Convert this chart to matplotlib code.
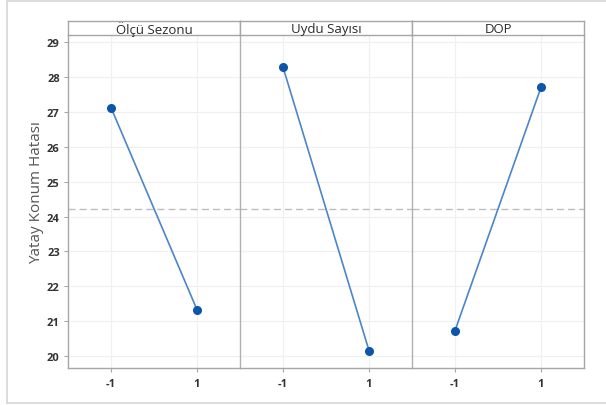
import matplotlib.pyplot as plt
from matplotlib.lines import Line2D

# main effects data
factors = ["Ölçü Sezonu", "Uydu Sayısı", "DOP"]
levels = [-1, 1]
level_labels = ["-1", "1"]
means = [
    [27.12, 21.33],
    [28.28, 20.16],
    [20.73, 27.70],
]
grand_mean = 24.22
y_ticks = [20, 21, 22, 23, 24, 25, 26, 27, 28, 29]
y_label = "Yatay Konum Hatası"

plt.rcParams['font.family'] = ['Open Sans', 'DejaVu Sans']

W, H = 606, 406
fig = plt.figure(figsize=(W / 100, H / 100), dpi=100)

# outer frame (left, top, bottom edges)
frame = '#d9d9d9'
x_l, y_t, y_b = 6.5 / W, 1 - 1.5 / H, 2.5 / H
for xs, ys in [([x_l, 1.0], [y_t, y_t]), ([x_l, x_l], [y_b, y_t]),
               ([x_l, 1.0], [y_b, y_b])]:
    fig.lines.append(Line2D(xs, ys, transform=fig.transFigure,
                            color=frame, lw=1.3))

left, right = 68, 584
top, bottom = 36, 369
strip_top = 22
pw = (right - left) / len(factors)
spine_col = '#a6a6a6'

for i, name in enumerate(factors):
    x0 = (left + i * pw) / W
    ax = fig.add_axes([x0, (H - bottom) / H, pw / W, (bottom - top) / H])
    ax.set_xlim(-2, 2)
    ax.set_ylim(19.66, 29.2)
    ax.set_xticks(levels)
    ax.set_xticklabels(level_labels)
    ax.set_yticks(y_ticks)
    ax.grid(True, color='#f0f0f0', lw=0.9)
    ax.set_axisbelow(True)
    ax.axhline(grand_mean, color='#bdbdbd', lw=1.0, ls=(0, (5, 3)))
    ax.plot(levels, means[i], color='#4a86c8', lw=1.2, marker='o',
            markersize=5.5, markerfacecolor='#0b56a8', markeredgecolor='#0b56a8')
    for s in ax.spines.values():
        s.set_color(spine_col)
        s.set_linewidth(1.0)
    ax.spines['top'].set_visible(False)
    if i < len(factors) - 1:
        ax.spines['right'].set_visible(False)
    if i > 0:
        ax.spines['left'].set_color('#b0b0b0')
    ax.tick_params(axis='x', length=3, color=spine_col, labelsize=8,
                   labelcolor='#333333', pad=4)
    for t in ax.get_xticklabels():
        t.set_fontweight('bold')
    if i == 0:
        ax.tick_params(axis='y', length=3, color=spine_col, labelsize=8,
                       labelcolor='#333333', pad=3)
        for t in ax.get_yticklabels():
            t.set_fontweight('bold')
        ax.set_ylabel(y_label, fontsize=11, color='#555555')
        ax.yaxis.set_label_coords(-0.14, 0.53)
    else:
        ax.tick_params(axis='y', left=False, labelleft=False)

    # facet header
    sax = fig.add_axes([x0, (H - top) / H, pw / W, (top - strip_top) / H])
    sax.set_xticks([])
    sax.set_yticks([])
    for s in sax.spines.values():
        s.set_color(spine_col)
        s.set_linewidth(1.0)
    sax.text(0.5, 0.45, name, ha='center', va='center', fontsize=9.5,
             color='#2b2b2b', transform=sax.transAxes)

fig.savefig("out.png", dpi=100)
